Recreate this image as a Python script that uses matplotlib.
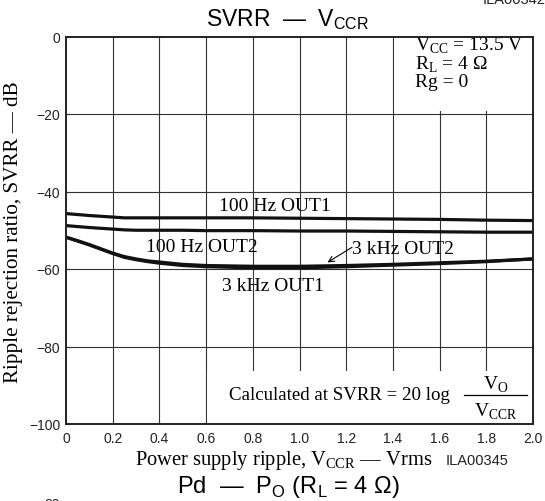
import numpy as np
import matplotlib
matplotlib.use("Agg")
import matplotlib.pyplot as plt
from matplotlib.patches import Rectangle

# ─── Data ────────────────────────────────────────────────────────────────────
x_ripple = [0, 0.05, 0.1, 0.15, 0.2, 0.25, 0.3, 0.35, 0.4, 0.5, 0.6, 0.8,
            1.0, 1.2, 1.4, 1.6, 1.8, 2.0]
svrr_100hz_out1 = [-45.7, -45.95, -46.2, -46.4, -46.6, -46.8, -46.8, -46.8, -46.8,
                   -46.8, -46.8, -46.8, -46.9, -47.0, -47.1, -47.2, -47.4, -47.5]
svrr_100hz_out2 = [-48.8, -49.05, -49.3, -49.5, -49.7, -49.9, -50.0, -50.0, -50.0,
                   -50.0, -50.1, -50.1, -50.2, -50.2, -50.3, -50.4, -50.5, -50.5]
svrr_3khz_out1 = [-51.8, -52.8, -53.8, -54.9, -56.0, -57.0, -57.6, -58.1, -58.5,
                  -59.1, -59.4, -59.7, -59.7, -59.4, -59.0, -58.6, -58.1, -57.4]
svrr_3khz_out2 = [-51.8, -52.7, -53.7, -54.8, -55.9, -56.8, -57.4, -57.9, -58.2,
                  -58.8, -59.1, -59.3, -59.3, -59.1, -58.8, -58.4, -58.0, -57.4]

x_ticks = [0, 0.2, 0.4, 0.6, 0.8, 1.0, 1.2, 1.4, 1.6, 1.8, 2.0]
x_ticklabels = ["0", "0.2", "0.4", "0.6", "0.8", "1.0", "1.2", "1.4", "1.6", "1.8", "2.0"]
y_ticks = [-100, -80, -60, -40, -20, 0]
y_ticklabels = ["\u2212100", "\u221280", "\u221260", "\u221240", "\u221220", "0"]

# ─── Fonts ───────────────────────────────────────────────────────────────────
SERIF = "Liberation Serif"
SANS = "Liberation Sans"
plt.rcParams["mathtext.fontset"] = "custom"
plt.rcParams["mathtext.rm"] = SERIF
plt.rcParams["mathtext.sf"] = SANS

# ─── Figure ──────────────────────────────────────────────────────────────────
W, H = 545, 502
fig = plt.figure(figsize=(W / 100, H / 100), dpi=100)
fig.patch.set_facecolor("white")
ax = fig.add_axes([66 / W, 1 - 425 / H, 467 / W, (425 - 37.5) / H])
ax.set_xlim(0, 2.0)
ax.set_ylim(-100, 0)

# Grid drawn by hand so the note boxes can sit over it
for xv in x_ticks[1:-1]:
    ax.axvline(xv, color="#333333", linewidth=0.8, zorder=1)
for yv in y_ticks[1:-1]:
    ax.axhline(yv, color="#333333", linewidth=0.8, zorder=1)

# White note boxes
ax.add_patch(Rectangle((1.405, -19.3), 0.595, 19.3, facecolor="white",
                       edgecolor="none", zorder=2))
ax.add_patch(Rectangle((0.605, -100), 1.395, 13.7, facecolor="white",
                       edgecolor="none", zorder=2))

# Curves
lw = 2.3
ax.plot(x_ripple, svrr_100hz_out1, color="#111111", linewidth=lw, zorder=3)
ax.plot(x_ripple, svrr_100hz_out2, color="#111111", linewidth=lw, zorder=3)
ax.plot(x_ripple, svrr_3khz_out1, color="#111111", linewidth=lw, zorder=3)
ax.plot(x_ripple, svrr_3khz_out2, color="#111111", linewidth=lw, zorder=3)

# Curve labels
lab = dict(fontsize=14, family=SERIF, ha="center", va="center", zorder=4)
ax.text(0.895, -43.6, "100 Hz OUT1", **lab)
ax.text(0.58, -54.3, "100 Hz OUT2", **lab)
ax.text(0.886, -64.2, "3 kHz OUT1", **lab)
ax.text(1.225, -54.8, "3 kHz OUT2", fontsize=14, family=SERIF,
        ha="left", va="center", zorder=4)
ax.annotate("", xy=(1.12, -58.3), xytext=(1.225, -54.4),
            arrowprops=dict(arrowstyle="->", color="black", lw=0.8,
                            shrinkA=0, shrinkB=0), zorder=4)

# Condition box (top right)
cond = dict(fontsize=14, family=SERIF, ha="left", va="center", zorder=4)
ax.text(1.495, -2.1, r"V$_\mathrm{CC}$ = 13.5 V", **cond)
ax.text(1.495, -7.0, r"R$_\mathrm{L}$ = 4 Ω", **cond)
ax.text(1.495, -11.7, "Rg = 0", **cond)

# Formula box (bottom right)
ax.text(1.645, -92.4, "Calculated at SVRR = 20 log", fontsize=13.6, family=SERIF,
        ha="right", va="center", zorder=4)
ax.plot([1.705, 1.975], [-92.6, -92.6], color="black", linewidth=0.9, zorder=4)
ax.text(1.84, -89.6, r"V$_\mathrm{O}$", fontsize=14, family=SERIF,
        ha="center", va="center", zorder=4)
ax.text(1.84, -96.6, r"V$_\mathrm{CCR}$", fontsize=14, family=SERIF,
        ha="center", va="center", zorder=4)

# Axes styling
ax.set_xticks(x_ticks)
ax.set_xticklabels(x_ticklabels, family=SANS, fontsize=10, color="#222222")
ax.set_yticks(y_ticks)
ax.set_yticklabels(y_ticklabels, family=SANS, fontsize=10, color="#222222")
ax.tick_params(axis="both", direction="in", length=3, width=0.8, color="#333333")
ax.tick_params(axis="x", pad=5)
ax.tick_params(axis="y", pad=4)
for s in ax.spines.values():
    s.set_linewidth(1.4)
    s.set_color("#222222")
    s.set_zorder(5)

# Titles and labels
fig.text(288 / W, 1 - 20 / H, r"SVRR  —  V$_\mathsf{CCR}$", family=SANS,
         fontsize=16.5, ha="center", va="center")
fig.text(14 / W, 1 - 232 / H, "Ripple rejection ratio, SVRR — dB", family=SERIF,
         fontsize=15.2, rotation=90, ha="center", va="center")
fig.text(284 / W, 1 - 461 / H, r"Power supply ripple, V$_\mathrm{CCR}$ — Vrms",
         family=SERIF, fontsize=14.8, ha="center", va="center")
fig.text(477 / W, 1 - 461 / H, "ILA00345", family=SANS, fontsize=10.5,
         ha="center", va="center", color="#222222")
fig.text(288 / W, 1 - 487 / H, r"Pd  —  P$_\mathsf{O}$ (R$_\mathsf{L}$ = 4 Ω)",
         family=SANS, fontsize=17, ha="center", va="center")

# Fragments of neighbouring charts cut by the crop
fig.text(52 / W, 1 - 498 / H, "80", family=SANS, fontsize=10, ha="center",
         va="top", color="#222222")
fig.text(545 / W, 1 - 4 / H, "ILA00342", family=SANS, fontsize=10.5, ha="right",
         va="baseline", color="#222222")

fig.savefig("out.png", dpi=100, facecolor="white")
